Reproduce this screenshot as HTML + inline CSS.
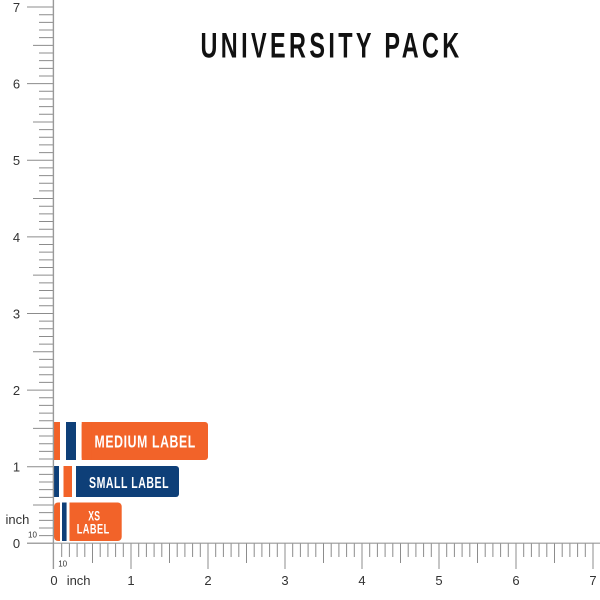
<!DOCTYPE html>
<html><head><meta charset="utf-8"><style>
html,body{margin:0;padding:0;background:#fff;}
svg{display:block;}
</style></head><body>
<svg width="600" height="600" viewBox="0 0 600 600" xmlns="http://www.w3.org/2000/svg" font-family="Liberation Sans, Arial, sans-serif">
<rect width="600" height="600" fill="#fff"/>
<!-- title -->
<text transform="translate(200.5,57.3) scale(0.66,1)" x="0" y="0" font-size="35.5" font-weight="bold" fill="#111" textLength="392" lengthAdjust="spacing">UNIVERSITY PACK</text>

<!-- Y ticks -->
<g transform="translate(0,543.3) scale(1,-7.661)" stroke="#8c8c8c" stroke-width="1" fill="none">
<path vector-effect="non-scaling-stroke" d="M39 1H53M39 2H53M39 3H53M39 4H53M39 6H53M39 7H53M39 8H53M39 9H53M39 11H53M39 12H53M39 13H53M39 14H53M39 16H53M39 17H53M39 18H53M39 19H53M39 21H53M39 22H53M39 23H53M39 24H53M39 26H53M39 27H53M39 28H53M39 29H53M39 31H53M39 32H53M39 33H53M39 34H53M39 36H53M39 37H53M39 38H53M39 39H53M39 41H53M39 42H53M39 43H53M39 44H53M39 46H53M39 47H53M39 48H53M39 49H53M39 51H53M39 52H53M39 53H53M39 54H53M39 56H53M39 57H53M39 58H53M39 59H53M39 61H53M39 62H53M39 63H53M39 64H53M39 66H53M39 67H53M39 68H53M39 69H53"/>
<path vector-effect="non-scaling-stroke" d="M33 5H53M33 15H53M33 25H53M33 35H53M33 45H53M33 55H53M33 65H53"/>
<path vector-effect="non-scaling-stroke" d="M27 0H53M27 10H53M27 20H53M27 30H53M27 40H53M27 50H53M27 60H53M27 70H53"/>
</g>

<!-- X ticks -->
<g transform="translate(54,543) scale(7.7,1)" stroke="#8c8c8c" stroke-width="1" fill="none">
<path vector-effect="non-scaling-stroke" d="M1 0V14M2 0V14M3 0V14M4 0V14M6 0V14M7 0V14M8 0V14M9 0V14M11 0V14M12 0V14M13 0V14M14 0V14M16 0V14M17 0V14M18 0V14M19 0V14M21 0V14M22 0V14M23 0V14M24 0V14M26 0V14M27 0V14M28 0V14M29 0V14M31 0V14M32 0V14M33 0V14M34 0V14M36 0V14M37 0V14M38 0V14M39 0V14M41 0V14M42 0V14M43 0V14M44 0V14M46 0V14M47 0V14M48 0V14M49 0V14M51 0V14M52 0V14M53 0V14M54 0V14M56 0V14M57 0V14M58 0V14M59 0V14M61 0V14M62 0V14M63 0V14M64 0V14M66 0V14M67 0V14M68 0V14M69 0V14"/>
<path vector-effect="non-scaling-stroke" d="M5 0V20M15 0V20M25 0V20M35 0V20M45 0V20M55 0V20M65 0V20"/>
<path vector-effect="non-scaling-stroke" d="M10 0V26M20 0V26M30 0V26M40 0V26M50 0V26M60 0V26M70 0V26"/>
</g>

<!-- Medium label -->
<g>
<rect x="53" y="422" width="7" height="38" fill="#f26329"/>
<rect x="60" y="422" width="6" height="38" fill="#ffffff"/>
<rect x="66" y="422" width="10" height="38" fill="#0e3f78"/>
<rect x="76" y="422" width="5.7" height="38" fill="#ffffff"/>
<rect x="81.7" y="422" width="126.3" height="38" rx="3" fill="#f26329"/>
<rect x="81.7" y="422" width="10" height="38" fill="#f26329"/>
<text transform="translate(94.5,447.4) scale(0.7,1)" font-size="17.5" font-weight="bold" fill="#fff" textLength="144" lengthAdjust="spacing">MEDIUM LABEL</text>
</g>

<!-- Small label -->
<g>
<rect x="53" y="466" width="6" height="31" fill="#0e3f78"/>
<rect x="59" y="466" width="4.5" height="31" fill="#ffffff"/>
<rect x="63.5" y="466" width="8.5" height="31" fill="#f26329"/>
<rect x="72" y="466" width="4" height="31" fill="#ffffff"/>
<rect x="76" y="466" width="103" height="31" rx="3" fill="#0e3f78"/>
<rect x="76" y="466" width="10" height="31" fill="#0e3f78"/>
<text transform="translate(89,488) scale(0.68,1)" font-size="15.5" font-weight="bold" fill="#fff" textLength="117" lengthAdjust="spacing">SMALL LABEL</text>
</g>

<!-- XS label -->
<defs><clipPath id="xsclip"><rect x="54" y="502.5" width="67.7" height="38.5" rx="4"/></clipPath></defs>
<g clip-path="url(#xsclip)">
<rect x="54" y="502.5" width="6" height="38.5" fill="#f26329"/>
<rect x="60" y="502.5" width="2" height="38.5" fill="#ffffff"/>
<rect x="62" y="502.5" width="4.7" height="38.5" fill="#0e3f78"/>
<rect x="66.7" y="502.5" width="2.8" height="38.5" fill="#ffffff"/>
<rect x="69.5" y="502.5" width="53" height="38.5" fill="#f26329"/>
</g>
<text transform="translate(88.3,520.6) scale(0.64,1)" font-size="13.5" font-weight="bold" fill="#fff" textLength="18.3" lengthAdjust="spacing">XS</text>
<text transform="translate(76.7,533.4) scale(0.68,1)" font-size="13.5" font-weight="bold" fill="#fff" textLength="47.8" lengthAdjust="spacing">LABEL</text>

<!-- axes -->
<line x1="53.4" y1="0" x2="53.4" y2="569" stroke="#999" stroke-width="1.4"/>
<line x1="27" y1="543.2" x2="600" y2="543.2" stroke="#999" stroke-width="1.2"/>

<!-- Y labels -->
<g font-size="13" fill="#333" text-anchor="middle">
<text x="16.5" y="11.9">7</text>
<text x="16.5" y="88.5">6</text>
<text x="16.5" y="165.2">5</text>
<text x="16.5" y="241.8">4</text>
<text x="16.5" y="318.4">3</text>
<text x="16.5" y="395.0">2</text>
<text x="16.5" y="471.6">1</text>
<text x="16.5" y="548.2">0</text>
</g>
<text x="5.5" y="524" font-size="13" fill="#333">inch</text>
<text x="28" y="537.3" font-size="8" fill="#333">10</text>

<!-- X labels -->
<g font-size="13" fill="#333" text-anchor="middle">
<text x="54" y="585">0</text>
<text x="131" y="585">1</text>
<text x="208" y="585">2</text>
<text x="285" y="585">3</text>
<text x="362" y="585">4</text>
<text x="439" y="585">5</text>
<text x="516" y="585">6</text>
<text x="593" y="585">7</text>
</g>
<text x="66.7" y="585" font-size="13" fill="#333">inch</text>
<text x="58.2" y="566.7" font-size="8" fill="#333">10</text>
</svg>
</body></html>
